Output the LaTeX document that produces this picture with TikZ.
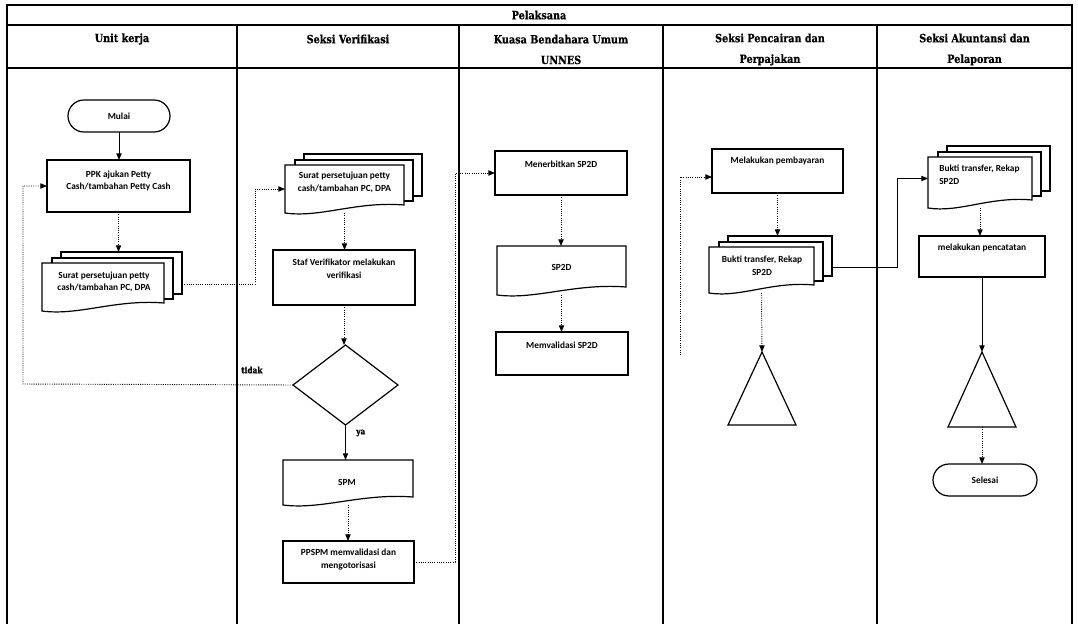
\documentclass[tikz,border=0pt]{standalone}
\usepackage{fontspec}
\setmainfont{Carlito}
\newfontfamily\bodyfamily{Carlito}
\newfontfamily\headfamily[FakeStretch=0.85, BoldFeatures={FakeBold=0.6}]{DejaVu Serif}
\usetikzlibrary{arrows.meta,shapes.geometric,shapes.misc,calc}

\newcommand\bodyfont{\bodyfamily\bfseries\fontsize{7}{9.5}\selectfont}

% plain process box given by its corners
\newcommand\flowbox[5]{%
  \node[box, minimum width={(#4-#2)*0.75pt}, minimum height={(#5-#3)*0.75pt}]
    (#1) at ({(#2+#4)/2},{(#3+#5)/2}) {};}

% single document sheet with a wavy lower edge
\newcommand\docpage[5]{%
  \draw[shp] (#2,#3) -- (#2,#5)
    .. controls ({#2+0.3*(#4-#2)},{#5+5}) and ({#2+0.6*(#4-#2)},{#5-12}) .. (#4,{#5-8})
    -- (#4,#3) -- cycle;
  \node[ghost, minimum width={(#4-#2)*0.75pt}, minimum height={(#5-#3)*0.75pt}]
    (#1) at ({(#2+#4)/2},{(#3+#5)/2}) {};}

% stack of three document sheets
\newcommand\stackdoc[5]{%
  \draw[shp] ({#2+19},{#3-11}) rectangle ({#4+18},{#5-17});
  \draw[shp] ({#2+10},{#3-5}) rectangle ({#4+9},{#5-12});
  \docpage{#1}{#2}{#3}{#4}{#5}%
  \coordinate (#1-top) at ({(#2+#4)/2},{#3-11});
  \coordinate (#1-back) at ({#4+18},{(#3+#5)/2-3});}

\begin{document}
\begin{tikzpicture}[x=0.75pt,y=-0.75pt,
  lane/.style={line width=1.3pt},
  shp/.style={draw, line width=0.9pt, fill=white},
  box/.style={shp, rectangle, inner sep=0pt, outer sep=0pt},
  term/.style={shp, rounded rectangle, inner sep=0pt, outer sep=0pt, font=\bodyfont},
  ghost/.style={rectangle, inner sep=0pt, outer sep=0pt},
  txt/.style={font=\bodyfont, align=center, inner sep=0pt},
  head/.style={font=\headfamily\bfseries\fontsize{8.5}{15.5}\selectfont, align=center, inner sep=0pt},
  lbl/.style={font=\headfamily\bfseries\fontsize{6.5}{8}\selectfont, inner sep=0pt},
  tip/.style={-{Triangle[length=5pt,width=4pt]}},
  dotarrow/.style={tip, densely dotted, line width=0.7pt},
  solidarrow/.style={tip, line width=0.7pt},
]
\useasboundingbox (0,0) rectangle (1078,624);

% ---------- swimlane frame ----------
\draw[lane] (7,624) -- (7,5) -- (1072,5) -- (1072,624);
\draw[lane] (7,25) -- (1072,25);
\draw[lane] (7,68) -- (1072,68);
\foreach \lx in {237,459,663,877} \draw[lane] (\lx,25) -- (\lx,624);

\node[head] (hpel) at (539,15) {Pelaksana};
\node[head] (hunit) at (122,39) {Unit kerja};
\node[head] (hver) at (348,39) {Seksi Verifikasi};
\node[head] (hkuasa) at (561,49.5) {Kuasa Bendahara Umum\\UNNES};
\node[head] (hcair) at (770,49.5) {Seksi Pencairan dan\\Perpajakan};
\node[head] (hakun) at (974.5,49.5) {Seksi Akuntansi dan\\Pelaporan};

% ---------- Unit kerja ----------
\node[term, minimum width={102*0.75pt}, minimum height={32*0.75pt}] (mulai) at (119,116) {Mulai};
\flowbox{ppk}{47}{160}{190}{212}
\node[txt] (ppk-t) at (118.5,181) {PPK ajukan Petty\\Cash/tambahan Petty Cash};
\stackdoc{ukdoc}{42}{263}{164}{311}
\node[txt] (ukdoc-t) at (104,282) {Surat persetujuan petty\\cash/tambahan PC, DPA};

% ---------- Seksi Verifikasi ----------
\stackdoc{svdoc}{285}{165}{404}{213}
\node[txt] (svdoc-t) at (344.5,182.5) {Surat persetujuan petty\\cash/tambahan PC, DPA};
\flowbox{staf}{273}{250}{415}{305}
\node[txt] (staf-t) at (344,268.5) {Staf Verifikator melakukan\\verifikasi};
\node[shp, diamond, minimum width={105*0.75pt}, minimum height={80*0.75pt}, inner sep=0pt, outer sep=0pt] (dia) at (345.5,385) {};
\docpage{spm}{283}{460}{413}{505}
\node[txt] (spm-t) at (347,482) {SPM};
\flowbox{ppspm}{283}{541}{414}{583}
\node[txt] (ppspm-t) at (348.5,559.5) {PPSPM memvalidasi dan\\mengotorisasi};
\node[lbl, anchor=west] (tidak) at (241,370) {tidak};
\node[lbl, anchor=west] (ya) at (356,433) {ya};

% ---------- Kuasa Bendahara Umum ----------
\flowbox{terbit}{495}{151}{627}{195}
\node[txt] (terbit-t) at (561,164) {Menerbitkan SP2D};
\docpage{sp2d}{497}{246}{626}{295}
\node[txt] (sp2d-t) at (561.5,267) {SP2D};
\flowbox{valid}{496}{332}{628}{375}
\node[txt] (valid-t) at (562,345) {Memvalidasi SP2D};

% ---------- Seksi Pencairan ----------
\flowbox{bayar}{712}{149}{843}{193}
\node[txt] (bayar-t) at (777.5,161) {Melakukan pembayaran};
\stackdoc{pcdoc}{709}{247}{814}{293}
\node[txt] (pcdoc-t) at (762,265.5) {Bukti transfer, Rekap\\SP2D};
\coordinate (tri1) at (762,352);
\draw[shp] (tri1) -- ++(-34,73) -- ++(68,0) -- cycle;
\coordinate (payin) at (680,355);

% ---------- Seksi Akuntansi ----------
\stackdoc{akdoc}{928}{157}{1032}{208}
\node[txt, align=left, anchor=west] (akdoc-t) at (939,174.5) {Bukti transfer, Rekap\\SP2D};
\flowbox{catat}{919}{236}{1045}{277}
\node[txt] (catat-t) at (982,248) {melakukan pencatatan};
\coordinate (tri2) at (982,352);
\draw[shp] (tri2) -- ++(-34,75) -- ++(68,0) -- cycle;
\coordinate (tri2b) at (982,427);
\node[term, minimum width={104*0.75pt}, minimum height={32*0.75pt}] (selesai) at (985,480) {Selesai};

% ---------- connectors ----------
\draw[solidarrow] (mulai.south) -- (mulai.south |- ppk.north);
\draw[dotarrow] (ppk.south) -- (ppk.south |- ukdoc-top);
\draw[dotarrow] (ukdoc-back) -- ++(73,0) |- (svdoc.west);
\draw[dotarrow] (svdoc.south) -- (svdoc.south |- staf.north);
\draw[dotarrow] (staf.south) -- (staf.south |- dia.north);
\coordinate (loop) at (23,384);
\draw[dotarrow] (dia.west) -- (loop) |- (ppk.west);
\draw[solidarrow] (dia.south) -- (dia.south |- spm.north);
\draw[dotarrow] (spm.south) -- (spm.south |- ppspm.north);
\draw[dotarrow] (ppspm.east) -- ++(41,0) |- (terbit.west);
\draw[dotarrow] (terbit.south) -- (terbit.south |- sp2d.north);
\draw[dotarrow] (sp2d.south) -- (sp2d.south |- valid.north);
\draw[dotarrow] (payin) |- ($(bayar.west)+(0,6)$);
\draw[dotarrow] (bayar.south) -- (bayar.south |- pcdoc-top);
\draw[dotarrow] (pcdoc.south) -- (tri1);
\draw[solidarrow] (pcdoc-back) -- ++(65,0) |- ($(akdoc.west)+(0,-4)$);
\draw[dotarrow] (akdoc.south) -- (akdoc.south |- catat.north);
\draw[solidarrow] (catat.south) -- (tri2);
\draw[dotarrow] (tri2b) -- (tri2b |- selesai.north);
\end{tikzpicture}
\end{document}
